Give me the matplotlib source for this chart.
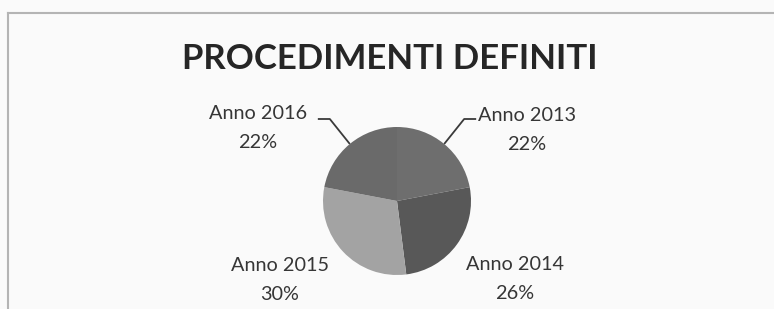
import matplotlib.pyplot as plt
import numpy as np

plt.rcParams['font.family'] = ['Lato', 'DejaVu Sans']

# data
years = ['Anno 2013', 'Anno 2014', 'Anno 2015', 'Anno 2016']
shares = [22, 26, 30, 22]
colors = ['#6e6e6e', '#585858', '#a3a3a3', '#6a6a6a']
title = 'PROCEDIMENTI DEFINITI'

fig = plt.figure(figsize=(7.74, 3.09), dpi=100)
fig.patch.set_facecolor('#fafafa')
ax = fig.add_axes([0, 0, 1, 1])

cx, cy, r = 397, 108, 74
wedges, _ = ax.pie(shares, colors=colors, startangle=90, counterclock=False,
                   center=(cx, cy), radius=r, frame=True,
                   wedgeprops=dict(linewidth=0))
ax.set_xlim(0, 774)
ax.set_ylim(0, 309)
ax.set_aspect('equal')
ax.axis('off')

# label placement (text centres) per slice
label_pos = [(527, 179), (515, 30), (280, 29), (258, 181)]
leader = [True, False, False, True]
txt_color = '#363636'
for w, name, val, (tx, ty), has_line in zip(wedges, years, shares, label_pos, leader):
    ax.text(tx, ty, f'{name}\n{val}%', ha='center', va='center', fontsize=14.3,
            color=txt_color, linespacing=1.85)
    if has_line:
        mid = np.deg2rad((w.theta1 + w.theta2) / 2)
        ex, ey = cx + r * np.cos(mid), cy + r * np.sin(mid)
        side = np.sign(np.cos(mid))
        kx = ex + side * 20
        ky = 190
        hx = kx + side * 12
        ax.plot([ex, kx, hx], [ey, ky, ky], color='#3a3a3a', lw=1.3,
                solid_capstyle='butt')

ax.text(390, 250, title, ha='center', va='center', fontsize=25,
        fontweight='bold', color='#262626')

# chart frame
ax.plot([8, 8], [0, 296.5], color='#b4b4b4', lw=1.5)
ax.plot([8, 774], [296.5, 296.5], color='#b4b4b4', lw=1.5)

fig.savefig('out.png', dpi=100, facecolor=fig.get_facecolor())
